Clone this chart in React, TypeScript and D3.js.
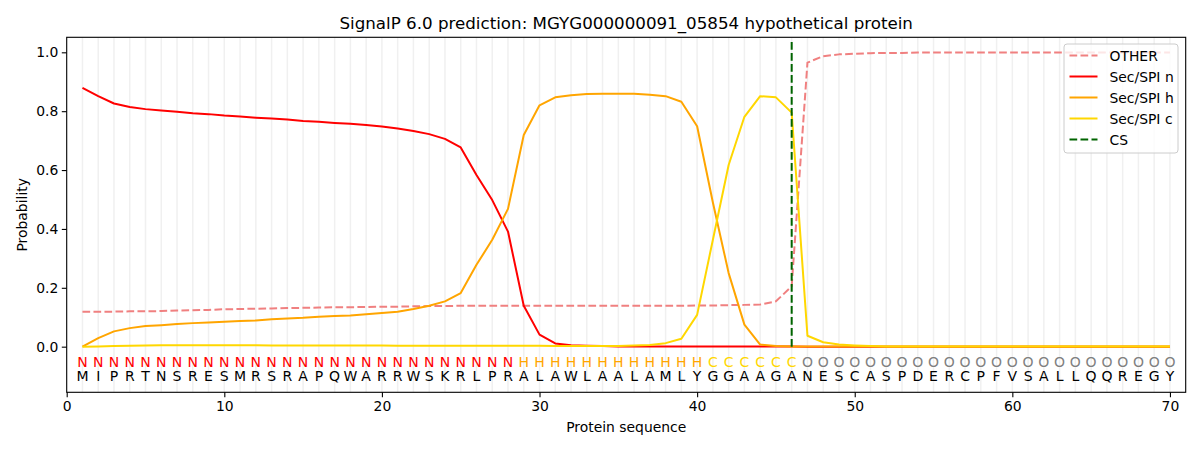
import { useEffect, useRef } from 'react';
import * as d3 from 'd3';

const title = 'SignalP 6.0 prediction: MGYG000000091_05854 hypothetical protein';

const residues = 'MIPRTNSRESMRSRAPQWARRWSKRLPRALAWLAALAMLYGGAAGANESCASPDERCPFVSALLQQREGY'.split('');
const regions = 'NNNNNNNNNNNNNNNNNNNNNNNNNNNNHHHHHHHHHHHHCCCCCCOOOOOOOOOOOOOOOOOOOOOOOO'.split('');

const other = [
  0.119, 0.119, 0.119, 0.120, 0.120, 0.121, 0.123, 0.124, 0.125, 0.127,
  0.128, 0.129, 0.130, 0.131, 0.132, 0.133, 0.134, 0.134, 0.135, 0.136,
  0.136, 0.137, 0.138, 0.138, 0.139, 0.139, 0.139, 0.139, 0.139, 0.139,
  0.139, 0.139, 0.139, 0.139, 0.139, 0.139, 0.139, 0.139, 0.139, 0.140,
  0.140, 0.141, 0.142, 0.143, 0.154, 0.205, 0.965, 0.987, 0.993, 0.995,
  0.997, 0.998, 0.998, 0.999, 0.999, 0.999, 0.999, 0.999, 0.999, 0.999,
  0.999, 0.999, 0.999, 0.999, 0.999, 0.999, 0.999, 0.999, 0.999, 0.999,
];

const secN = [
  0.879, 0.851, 0.826, 0.814, 0.807, 0.802, 0.798, 0.793, 0.790, 0.785,
  0.782, 0.778, 0.775, 0.772, 0.767, 0.764, 0.760, 0.757, 0.753, 0.748,
  0.741, 0.733, 0.722, 0.706, 0.677, 0.583, 0.498, 0.391, 0.139, 0.041,
  0.011, 0.005, 0.003, 0.002, 0.001, 0.001, 0.001, 0.001, 0.001, 0.001,
  0.001, 0.001, 0.001, 0.001, 0.001, 0.001, 0, 0, 0, 0,
  0, 0, 0, 0, 0, 0, 0, 0, 0, 0,
  0, 0, 0, 0, 0, 0, 0, 0, 0, 0,
];

const secH = [
  0.000, 0.029, 0.052, 0.063, 0.070, 0.073, 0.077, 0.080, 0.082, 0.085,
  0.087, 0.089, 0.093, 0.096, 0.098, 0.102, 0.104, 0.106, 0.110, 0.114,
  0.119, 0.128, 0.139, 0.154, 0.182, 0.278, 0.363, 0.468, 0.719, 0.820,
  0.847, 0.854, 0.858, 0.859, 0.859, 0.859, 0.856, 0.851, 0.832, 0.749,
  0.490, 0.250, 0.075, 0.007, 0.002, 0.001, 0.001, 0.001, 0.001, 0.001,
  0.001, 0.001, 0.001, 0.001, 0.001, 0.001, 0.001, 0.001, 0.001, 0.001,
  0.001, 0.001, 0.001, 0.001, 0.001, 0.001, 0.001, 0.001, 0.001, 0.001,
];

const secC = [
  0.000, 0.001, 0.002, 0.003, 0.004, 0.005, 0.005, 0.005, 0.005, 0.005,
  0.005, 0.005, 0.004, 0.004, 0.004, 0.004, 0.004, 0.004, 0.004, 0.004,
  0.003, 0.003, 0.003, 0.003, 0.003, 0.003, 0.003, 0.003, 0.003, 0.003,
  0.002, 0.002, 0.002, 0.002, 0.002, 0.004, 0.006, 0.012, 0.027, 0.108,
  0.363, 0.617, 0.781, 0.851, 0.847, 0.795, 0.037, 0.015, 0.007, 0.004,
  0.002, 0.001, 0.001, 0.001, 0.001, 0.001, 0.001, 0.001, 0.001, 0.001,
  0.001, 0.001, 0.001, 0.001, 0.001, 0.001, 0.001, 0.001, 0.001, 0.001,
];

const cleavageSite = 46;
const xTicks = [0, 10, 20, 30, 40, 50, 60, 70];
const yTicks = [0, 0.2, 0.4, 0.6, 0.8, 1.0];

const regionColor: Record<string, string> = {
  N: '#ff0000',
  H: '#ffa500',
  C: '#ffd700',
  O: '#808080',
};

const series = [
  { name: 'OTHER', values: other, color: '#f08080', dash: '7.7,3.3' },
  { name: 'Sec/SPI n', values: secN, color: '#ff0000', dash: null },
  { name: 'Sec/SPI h', values: secH, color: '#ffa500', dash: null },
  { name: 'Sec/SPI c', values: secC, color: '#ffd700', dash: null },
];

const FONT = 'DejaVu Sans, sans-serif';

export default function App() {
  const svgRef = useRef<SVGSVGElement>(null);
  const width = 1200;
  const height = 450;

  useEffect(() => {
    if (!svgRef.current) return;
    const svg = d3.select(svgRef.current);
    svg.selectAll('*').remove();

    const left = 66.7, right = 1185.7, top = 37.3, bottom = 392.3;
    const x = d3.scaleLinear().domain([0, 71]).range([left, right]);
    const y = d3.scaleLinear().domain([-0.155, 1.051]).range([bottom, top]);
    const positions = residues.map((_, i) => i + 1);

    svg.append('rect').attr('width', width).attr('height', height).attr('fill', '#fff');

    // vertical guides at each residue
    svg.append('g').selectAll('line').data(positions).join('line')
      .attr('x1', d => x(d)).attr('x2', d => x(d))
      .attr('y1', top).attr('y2', bottom)
      .attr('stroke', '#f0f0f0').attr('stroke-width', 1.5);

    // probability lines
    const line = d3.line<number>().x((_, i) => x(i + 1)).y(d => y(d));
    series.forEach(s => {
      const p = svg.append('path')
        .attr('d', line(s.values))
        .attr('fill', 'none')
        .attr('stroke', s.color)
        .attr('stroke-width', 2)
        .attr('stroke-linejoin', 'round');
      if (s.dash) p.attr('stroke-dasharray', s.dash);
    });

    // cleavage site
    svg.append('line')
      .attr('x1', x(cleavageSite)).attr('x2', x(cleavageSite))
      .attr('y1', y(0)).attr('y2', y(1.036))
      .attr('stroke', '#006400').attr('stroke-width', 2)
      .attr('stroke-dasharray', '7.7,3.3');

    // region + residue letters
    svg.append('g').selectAll('text').data(regions).join('text')
      .attr('x', (_, i) => x(i + 1)).attr('y', 366.5)
      .attr('text-anchor', 'middle')
      .attr('font-family', FONT).attr('font-size', '14px')
      .attr('fill', d => regionColor[d])
      .text(d => d);
    svg.append('g').selectAll('text').data(residues).join('text')
      .attr('x', (_, i) => x(i + 1)).attr('y', 381)
      .attr('text-anchor', 'middle')
      .attr('font-family', FONT).attr('font-size', '14px')
      .attr('fill', '#000')
      .text(d => d);

    // axes
    const xAxis = svg.append('g').attr('transform', `translate(0,${bottom})`)
      .call(d3.axisBottom(x).tickValues(xTicks).tickSize(4.9).tickPadding(3.5).tickFormat(d3.format('d')));
    const yAxis = svg.append('g').attr('transform', `translate(${left},0)`)
      .call(d3.axisLeft(y).tickValues(yTicks).tickSize(4.9).tickPadding(3.5).tickFormat(d3.format('.1f')));
    [xAxis, yAxis].forEach(a => {
      a.select('.domain').remove();
      a.selectAll('line').attr('stroke', '#000').attr('stroke-width', 1.1);
      a.selectAll('text').attr('font-family', FONT).attr('font-size', '13.9px').attr('fill', '#000');
    });

    svg.append('rect')
      .attr('x', left).attr('y', top)
      .attr('width', right - left).attr('height', bottom - top)
      .attr('fill', 'none').attr('stroke', '#000').attr('stroke-width', 1.1);

    // labels
    svg.append('text')
      .attr('x', (left + right) / 2).attr('y', 29)
      .attr('text-anchor', 'middle')
      .attr('font-family', FONT).attr('font-size', '16.7px')
      .text(title);
    svg.append('text')
      .attr('x', (left + right) / 2).attr('y', 432)
      .attr('text-anchor', 'middle')
      .attr('font-family', FONT).attr('font-size', '13.9px')
      .text('Protein sequence');
    svg.append('text')
      .attr('transform', `translate(27,${(top + bottom) / 2}) rotate(-90)`)
      .attr('text-anchor', 'middle')
      .attr('font-family', FONT).attr('font-size', '13.9px')
      .text('Probability');

    // legend
    const legendItems = [
      ...series.map(s => ({ name: s.name, color: s.color, dash: s.dash })),
      { name: 'CS', color: '#006400', dash: '7.7,3.3' },
    ];
    const lg = svg.append('g').attr('transform', 'translate(1064,44)');
    lg.append('rect')
      .attr('width', 114).attr('height', 109)
      .attr('rx', 3)
      .attr('fill', '#fff').attr('fill-opacity', 0.8)
      .attr('stroke', '#cccccc').attr('stroke-width', 1);
    legendItems.forEach((item, i) => {
      const cy = 11.5 + i * 21;
      const l = lg.append('line')
        .attr('x1', 5.5).attr('x2', 33.5).attr('y1', cy).attr('y2', cy)
        .attr('stroke', item.color).attr('stroke-width', 2);
      if (item.dash) l.attr('stroke-dasharray', item.dash);
      lg.append('text')
        .attr('x', 45.5).attr('y', cy + 5)
        .attr('font-family', FONT).attr('font-size', '13.9px')
        .attr('fill', '#000')
        .text(item.name);
    });
  }, []);

  return (
    <svg ref={svgRef} width={width} height={height}
      style={{ position: 'absolute', left: 0, top: 0, display: 'block' }} />
  );
}
